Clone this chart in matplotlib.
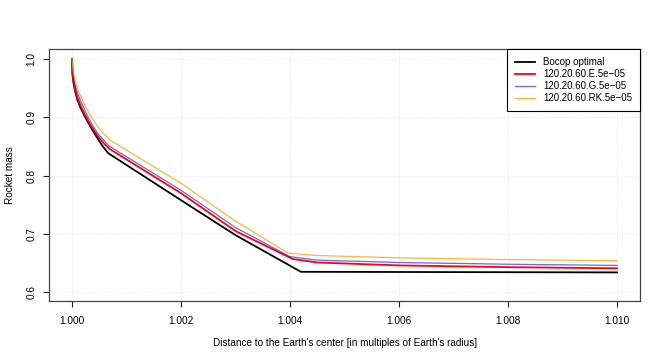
import matplotlib
matplotlib.use("Agg")
import matplotlib.pyplot as plt

plt.rcParams['font.family'] = ['Liberation Sans', 'DejaVu Sans']

# Bocop optimal
bocop_x = [1.0, 1.00001, 1.00003, 1.00006, 1.0001, 1.00016, 1.00024, 1.00034,
           1.00045, 1.00056, 1.000667, 1.002, 1.003, 1.0042, 1.010]
bocop_y = [1.0, 0.972, 0.958, 0.944, 0.930, 0.916, 0.901, 0.884,
           0.867, 0.851, 0.8385, 0.758, 0.698, 0.635, 0.634]

# 120.20.60.E.5e-05
e_x = [1.0, 1.00001, 1.00003, 1.00006, 1.0001, 1.00016, 1.00024, 1.00034,
       1.00045, 1.00057, 1.00069, 1.002, 1.003, 1.00405, 1.0045, 1.006, 1.008, 1.010]
e_y = [1.0, 0.975, 0.961, 0.947, 0.934, 0.920, 0.904, 0.887,
       0.871, 0.857, 0.846, 0.770, 0.705, 0.657, 0.651, 0.646, 0.643, 0.641]

# 120.20.60.G.5e-05
g_x = [1.0, 1.00002, 1.00005, 1.0001, 1.00016, 1.00024, 1.0003, 1.00038,
       1.00048, 1.00058, 1.00068, 1.002, 1.003, 1.0040, 1.0045, 1.006, 1.008, 1.010]
g_y = [1.0, 0.975, 0.958, 0.942, 0.928, 0.912, 0.900, 0.886,
       0.872, 0.861, 0.851, 0.775, 0.711, 0.661, 0.655, 0.651, 0.648, 0.646]

# 120.20.60.RK.5e-05
rk_x = [1.0, 1.00002, 1.00006, 1.00012, 1.0002, 1.00028, 1.00036, 1.00046,
        1.00057, 1.0007, 1.002, 1.003, 1.00397, 1.0045, 1.006, 1.008, 1.010]
rk_y = [1.0, 0.980, 0.962, 0.945, 0.928, 0.913, 0.900, 0.886,
        0.873, 0.861, 0.787, 0.722, 0.667, 0.663, 0.659, 0.656, 0.654]

x_ticks = [1.000, 1.002, 1.004, 1.006, 1.008, 1.010]
y_ticks = [0.6, 0.7, 0.8, 0.9, 1.0]

fig = plt.figure(figsize=(6.64, 3.63), dpi=100)
ax = fig.add_axes([0.0745, 0.1708, 0.8894, 0.6934])

# faint dotted grid at tick positions
for xt in x_ticks:
    ax.axvline(xt, color='#e2e2e2', linestyle=(0, (1, 2)), linewidth=0.6, zorder=0)
for yt in y_ticks:
    ax.axhline(yt, color='#e2e2e2', linestyle=(0, (1, 2)), linewidth=0.6, zorder=0)

ax.plot(bocop_x, bocop_y, color='black', linewidth=1.3, label='Bocop optimal')
ax.plot(e_x, e_y, color='red', linewidth=1.3, label='120.20.60.E.5e\u221205')
ax.plot(g_x, g_y, color='blue', alpha=0.6, linewidth=0.9, label='120.20.60.G.5e\u221205')
ax.plot(rk_x, rk_y, color='orange', alpha=0.8, linewidth=0.9, label='120.20.60.RK.5e\u221205')

ax.set_xlim(0.999587, 1.010422)
ax.set_ylim(0.5849, 1.017)

ax.set_xticks(x_ticks)
ax.set_xticklabels(['%.3f' % v for v in x_ticks])
ax.set_yticks(y_ticks)
ax.set_yticklabels(['%.1f' % v for v in y_ticks], rotation=90, va='center')

ax.tick_params(axis='both', direction='out', length=4.5, width=0.8,
               labelsize=7.3, color='#222222')
ax.tick_params(axis='x', pad=6)
ax.tick_params(axis='y', pad=5)

for s in ax.spines.values():
    s.set_color('#444444')
    s.set_linewidth(0.9)

ax.set_xlabel("Distance to the Earth's center [in multiples of Earth's radius]",
              fontsize=7.2, labelpad=9)
ax.set_ylabel('Rocket mass', fontsize=7.2, labelpad=8)

leg = ax.legend(loc='upper right', borderaxespad=0, fontsize=7.0, fancybox=False,
                framealpha=1, edgecolor='black', handlelength=2.0,
                handletextpad=0.9, labelspacing=0.2, borderpad=0.8)
leg.get_frame().set_linewidth(0.8)

fig.savefig('out.png', dpi=100)
